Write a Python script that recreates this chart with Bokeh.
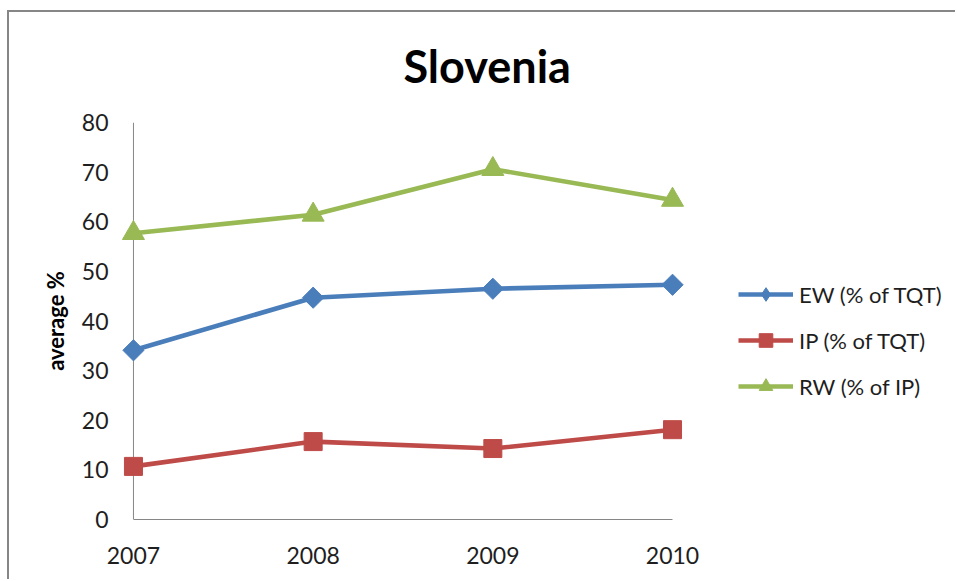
from math import pi
from bokeh.plotting import figure
from bokeh.models import Range1d, FixedTicker, Legend, LegendItem
from bokeh.embed import file_html
from bokeh.resources import INLINE

# ---- data ----
years = [2007, 2008, 2009, 2010]
year_labels = ["2007", "2008", "2009", "2010"]
ew = [34.1, 44.7, 46.5, 47.3]
ip = [10.7, 15.7, 14.3, 18.1]
rw = [57.7, 61.4, 70.6, 64.4]
y_ticks = [0, 10, 20, 30, 40, 50, 60, 70, 80]
series_names = ["EW (% of TQT)", "IP (% of TQT)", "RW (% of IP)"]
title_text = "Slovenia"
y_label = "average %"

BLUE = "#4A7EBB"
RED = "#BE4B48"
GREEN = "#98B954"
AXIS = "#868686"
TEXT = "#1e1e1e"
FONT = "Lato"

# plot area spans to the right edge so the legend (inside it) is not clipped
p = figure(width=955, height=579,
           x_range=Range1d(2006.9, 2011.5748), y_range=Range1d(0, 80),
           output_backend="svg", toolbar_location=None,
           min_border_left=115, min_border_right=0,
           min_border_top=122, min_border_bottom=60)
p.border_fill_color = None
p.background_fill_color = None
p.outline_line_color = None
p.xgrid.visible = False
p.ygrid.visible = False
p.styles = {"box-shadow": ("inset 7px 0 0 0 #ffffff, inset 0 10px 0 0 #ffffff, "
                           "inset 9px 0 0 0 #868686, inset 0 12px 0 0 #868686")}

# title
p.title.text = title_text
p.title.align = "left"
p.title.offset = 288
p.title.standoff = 60
p.title.text_font = FONT
p.title.text_font_size = "45px"
p.title.text_font_style = "bold"
p.title.text_color = "#000000"

# axes
for ax in (p.xaxis[0], p.yaxis[0]):
    ax.axis_line_width = 1
    ax.major_tick_line_color = None
    ax.minor_tick_line_color = None
    ax.major_tick_out = 0
    ax.major_tick_in = 0
    ax.major_label_text_font = FONT
    ax.major_label_text_font_size = "23px"
    ax.major_label_text_color = TEXT

p.xaxis.axis_line_color = AXIS
p.xaxis.ticker = FixedTicker(ticks=years)
p.xaxis.major_label_overrides = {y: l for y, l in zip(years, year_labels)}
p.xaxis.bounds = (years[0], years[-1])
p.xaxis.major_label_standoff = 27

p.yaxis.axis_line_color = None
p.yaxis.ticker = FixedTicker(ticks=y_ticks)
p.yaxis.major_label_standoff = 7
p.yaxis.axis_label = y_label
p.yaxis.axis_label_text_font = FONT
p.yaxis.axis_label_text_font_size = "22px"
p.yaxis.axis_label_text_font_style = "bold"
p.yaxis.axis_label_text_color = "#000000"
p.yaxis.axis_label_standoff = 10

# vertical axis line at the first category
p.segment(x0=[years[0]], y0=[y_ticks[0]], x1=[years[0]], y1=[y_ticks[-1]],
          line_color=AXIS, line_width=1)

LW = 4.6
l_ew = p.line(years, ew, line_color=BLUE, line_width=LW)
l_ip = p.line(years, ip, line_color=RED, line_width=LW)
l_rw = p.line(years, rw, line_color=GREEN, line_width=LW)

# legend-only diamond hidden under the plotted markers
d_ew = p.scatter(years, ew, marker="diamond", size=10, fill_color=BLUE, line_color=BLUE)
m_ew = p.scatter(years, ew, marker="square", angle=pi / 4, size=15,
                 fill_color=BLUE, line_color=BLUE)
m_ip = p.scatter(years, ip, marker="square", size=18, fill_color=RED, line_color=RED)
m_rw = p.scatter(years, rw, marker="triangle", size=22, fill_color=GREEN, line_color=GREEN)

legend = Legend(items=[
    LegendItem(label=series_names[0], renderers=[l_ew, d_ew]),
    LegendItem(label=series_names[1], renderers=[l_ip, m_ip]),
    LegendItem(label=series_names[2], renderers=[l_rw, m_rw]),
], location=(623, 116))
legend.glyph_width = 55
legend.glyph_height = 34
legend.label_height = 34
legend.spacing = 12
legend.padding = 0
legend.margin = 0
legend.label_standoff = 6
legend.border_line_color = None
legend.background_fill_color = None
legend.label_text_font = FONT
legend.label_text_font_size = "22px"
legend.label_text_color = TEXT
legend.label_text_baseline = "middle"
p.add_layout(legend, "center")

open("out.html", "w").write(file_html(p, INLINE))
